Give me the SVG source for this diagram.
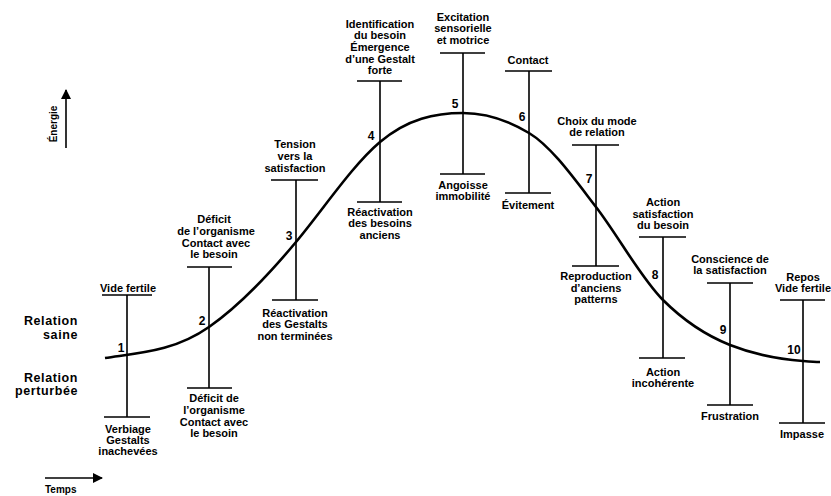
<svg xmlns="http://www.w3.org/2000/svg" width="831" height="496" viewBox="0 0 831 496">
<defs>
<marker id="ah" viewBox="0 0 10 10" refX="9" refY="5" markerWidth="10" markerHeight="10" markerUnits="userSpaceOnUse" orient="auto">
<path d="M0,0 L10,5 L0,10 Z" fill="#000"/>
</marker>
</defs>
<style>
text{font-family:"Liberation Sans",Arial,sans-serif;font-weight:bold;fill:#000}
.t{font-size:11px;text-anchor:middle}
.n{font-size:12px;text-anchor:middle}
.side{font-size:12.5px;text-anchor:end;letter-spacing:0.6px}
.ax{font-size:10px}
.bar{stroke:#000;stroke-width:1.6;fill:none}
.curve{stroke:#000;stroke-width:2.6;fill:none}
.arr{stroke:#000;stroke-width:1.6;fill:none}
</style>
<rect width="831" height="496" fill="#fff"/>

<g id="axes">
<line class="arr" x1="66" y1="148" x2="66" y2="90" marker-end="url(#ah)"/>
<text class="ax" transform="translate(57,124) rotate(-90)" text-anchor="middle">Énergie</text>
<line class="arr" x1="45" y1="478" x2="102" y2="478" marker-end="url(#ah)"/>
<text class="ax" x="45" y="493">Temps</text>
<text class="side" x="78" y="325">Relation</text>
<text class="side" x="78" y="338.5">saine</text>
<text class="side" x="78" y="381.5">Relation</text>
<text class="side" x="78" y="395">perturbée</text>
</g>

<g id="connectors">
<path class="curve" d="M105,358 C139.7,352.8 174.3,351.3 209,327 C238,306.7 267,276.8 296,242 C324,208.4 352,165.8 380,142 C407.7,118.5 435.3,113 463,113 C485,113 507,119.8 529,133 C551.3,146.4 573.7,178 596,207 C618.3,236 640.7,277.7 663,300 C685.3,322.3 707.7,336.1 730,345 C754.3,354.7 778.7,359.1 803,361 C808.7,361.5 814.3,362 820,362"/>
</g>

<g id="node1">
<path class="bar" d="M102,295 H152 M127,295 V417 M104,417 H150"/>
<text class="n" x="121" y="352">1</text>
<text class="t" x="128" y="292">Vide fertile</text>
<text class="t" x="128" y="433">Verbiage</text>
<text class="t" x="128" y="444">Gestalts</text>
<text class="t" x="128" y="455">inachevées</text>
</g>

<g id="node2">
<path class="bar" d="M187,267 H232 M209,267 V388 M187,388 H232"/>
<text class="n" x="202" y="325">2</text>
<text class="t" x="214" y="223">Déficit</text>
<text class="t" x="216" y="235">de l’organisme</text>
<text class="t" x="216" y="247">Contact avec</text>
<text class="t" x="214" y="258">le besoin</text>
<text class="t" x="214" y="402">Déficit de</text>
<text class="t" x="214" y="414">l’organisme</text>
<text class="t" x="214" y="426">Contact avec</text>
<text class="t" x="214" y="437">le besoin</text>
</g>

<g id="node3">
<path class="bar" d="M271,180 H318 M296,180 V300 M272,300 H318"/>
<text class="n" x="289" y="240">3</text>
<text class="t" x="295" y="148">Tension</text>
<text class="t" x="295" y="160">vers la</text>
<text class="t" x="295" y="172">satisfaction</text>
<text class="t" x="295" y="317">Réactivation</text>
<text class="t" x="295" y="328">des Gestalts</text>
<text class="t" x="295" y="340">non terminées</text>
</g>

<g id="node4">
<path class="bar" d="M357,81 H402 M380,81 V202 M357,202 H402"/>
<text class="n" x="371" y="140">4</text>
<text class="t" x="380" y="28">Identification</text>
<text class="t" x="380" y="39">du besoin</text>
<text class="t" x="380" y="51">Émergence</text>
<text class="t" x="380" y="63">d’une Gestalt</text>
<text class="t" x="380" y="74">forte</text>
<text class="t" x="380" y="216">Réactivation</text>
<text class="t" x="380" y="227">des besoins</text>
<text class="t" x="380" y="239">anciens</text>
</g>

<g id="node5">
<path class="bar" d="M440,53 H485 M463,53 V174 M440,174 H485"/>
<text class="n" x="455" y="108">5</text>
<text class="t" x="463" y="21">Excitation</text>
<text class="t" x="463" y="32">sensorielle</text>
<text class="t" x="463" y="44">et motrice</text>
<text class="t" x="463" y="189">Angoisse</text>
<text class="t" x="463" y="200">immobilité</text>
</g>

<g id="node6">
<path class="bar" d="M505,71 H552 M529,71 V193 M505,193 H551"/>
<text class="n" x="522" y="121">6</text>
<text class="t" x="528" y="64">Contact</text>
<text class="t" x="528" y="209">Évitement</text>
</g>

<g id="node7">
<path class="bar" d="M572,145 H619 M596,145 V266 M572,266 H619"/>
<text class="n" x="589" y="183">7</text>
<text class="t" x="597" y="125">Choix du mode</text>
<text class="t" x="597" y="136">de relation</text>
<text class="t" x="596" y="280">Reproduction</text>
<text class="t" x="596" y="292">d’anciens</text>
<text class="t" x="596" y="303">patterns</text>
</g>

<g id="node8">
<path class="bar" d="M639,237 H686 M663,237 V358 M639,358 H685"/>
<text class="n" x="655" y="279">8</text>
<text class="t" x="663" y="206">Action</text>
<text class="t" x="663" y="218">satisfaction</text>
<text class="t" x="663" y="229">du besoin</text>
<text class="t" x="663" y="376">Action</text>
<text class="t" x="663" y="387">incohérente</text>
</g>

<g id="node9">
<path class="bar" d="M707,283 H753 M730,283 V405 M707,405 H753"/>
<text class="n" x="723" y="334">9</text>
<text class="t" x="730" y="263">Conscience de</text>
<text class="t" x="730" y="274">la satisfaction</text>
<text class="t" x="730" y="420">Frustration</text>
</g>

<g id="node10">
<path class="bar" d="M780,300 H825 M803,300 V423 M779,423 H825"/>
<text class="n" x="794" y="354">10</text>
<text class="t" x="803" y="281">Repos</text>
<text class="t" x="803" y="292">Vide fertile</text>
<text class="t" x="802" y="438">Impasse</text>
</g>
</svg>
